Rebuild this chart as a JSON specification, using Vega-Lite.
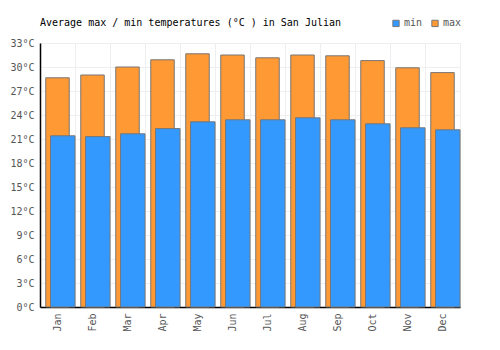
{
  "$schema": "https://vega.github.io/schema/vega-lite/v6.json",
  "width": 420,
  "height": 264,
  "autosize": {"type": "none"},
  "padding": {"left": 40, "top": 43, "right": 40, "bottom": 43},
  "background": "white",
  "title": {
    "text": "Average max / min temperatures (°C ) in San Julian",
    "anchor": "start",
    "frame": "group",
    "font": "DejaVu Sans Mono",
    "fontSize": 10,
    "fontWeight": "normal",
    "color": "#000",
    "offset": -10
  },
  "data": {
    "values": [
      {"month": "Jan", "series": "max", "temp": 28.65},
      {"month": "Feb", "series": "max", "temp": 29.0},
      {"month": "Mar", "series": "max", "temp": 30.0},
      {"month": "Apr", "series": "max", "temp": 30.9},
      {"month": "May", "series": "max", "temp": 31.65},
      {"month": "Jun", "series": "max", "temp": 31.5},
      {"month": "Jul", "series": "max", "temp": 31.15},
      {"month": "Aug", "series": "max", "temp": 31.5},
      {"month": "Sep", "series": "max", "temp": 31.4},
      {"month": "Oct", "series": "max", "temp": 30.8},
      {"month": "Nov", "series": "max", "temp": 29.9},
      {"month": "Dec", "series": "max", "temp": 29.3},
      {"month": "Jan", "series": "min", "temp": 21.4},
      {"month": "Feb", "series": "min", "temp": 21.3},
      {"month": "Mar", "series": "min", "temp": 21.65},
      {"month": "Apr", "series": "min", "temp": 22.3},
      {"month": "May", "series": "min", "temp": 23.15},
      {"month": "Jun", "series": "min", "temp": 23.4},
      {"month": "Jul", "series": "min", "temp": 23.4},
      {"month": "Aug", "series": "min", "temp": 23.65},
      {"month": "Sep", "series": "min", "temp": 23.4},
      {"month": "Oct", "series": "min", "temp": 22.9},
      {"month": "Nov", "series": "min", "temp": 22.4},
      {"month": "Dec", "series": "min", "temp": 22.15}
    ]
  },
  "encoding": {
    "x": {
      "field": "month",
      "type": "nominal",
      "sort": ["Jan","Feb","Mar","Apr","May","Jun","Jul","Aug","Sep","Oct","Nov","Dec"],
      "scale": {"paddingInner": 0, "paddingOuter": 0},
      "axis": {
        "title": null,
        "labelAngle": 270,
        "labelAlign": "right",
        "labelBaseline": "middle",
        "labelPadding": 6,
        "ticks": false,
        "tickBand": "extent",
        "grid": true,
        "gridColor": "#eeeeee",
        "domainColor": "#000",
        "domainWidth": 1.5,
        "labelColor": "#555",
        "labelFont": "DejaVu Sans Mono",
        "labelFontSize": 10
      }
    },
    "y": {
      "field": "temp",
      "type": "quantitative",
      "scale": {"domain": [0, 33], "nice": false},
      "axis": {
        "title": null,
        "values": [0, 3, 6, 9, 12, 15, 18, 21, 24, 27, 30, 33],
        "labelExpr": "datum.value + '°C'",
        "ticks": false,
        "labelPadding": 6,
        "grid": true,
        "gridColor": "#eeeeee",
        "domainColor": "#000",
        "domainWidth": 1.5,
        "labelColor": "#555",
        "labelFont": "DejaVu Sans Mono",
        "labelFontSize": 10
      }
    },
    "color": {
      "field": "series",
      "type": "nominal",
      "scale": {"domain": ["min", "max"], "range": ["#3399ff", "#ff9933"]},
      "legend": {
        "title": null,
        "orient": "none",
        "legendX": 351,
        "legendY": -25,
        "direction": "horizontal",
        "symbolType": "square",
        "symbolSize": 40,
        "symbolStrokeColor": "#777",
        "symbolStrokeWidth": 1,
        "symbolOpacity": 1,
        "labelFont": "DejaVu Sans Mono",
        "labelFontSize": 10,
        "labelColor": "#555",
        "columnPadding": 6,
        "labelOffset": 3
      }
    }
  },
  "layer": [
    {
      "transform": [{"filter": "datum.series == 'max'"}],
      "mark": {"type": "bar", "width": 23.5, "stroke": "#777", "strokeWidth": 1, "opacity": 1}
    },
    {
      "transform": [{"filter": "datum.series == 'min'"}],
      "mark": {"type": "bar", "width": 24.5, "xOffset": 5.3, "stroke": "#777", "strokeWidth": 1, "opacity": 1}
    }
  ],
  "config": {"view": {"stroke": null}}
}
